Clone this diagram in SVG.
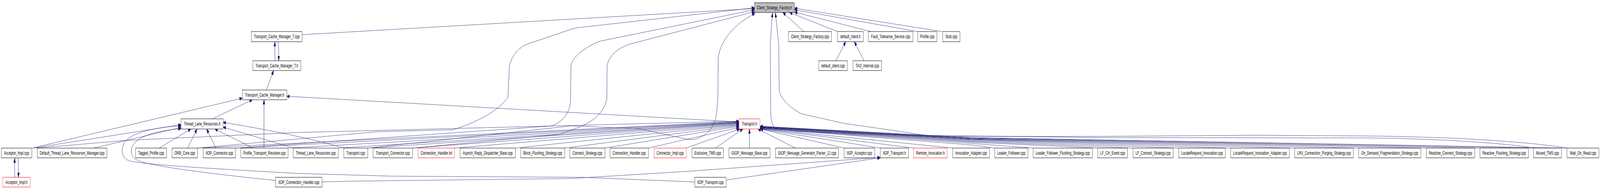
<svg xmlns="http://www.w3.org/2000/svg" width="7000" height="485" viewBox="0 0 7000 485" preserveAspectRatio="none">
<style>
svg{width:100%;height:100%}
.node rect{fill:#ffffff;stroke:#000000;stroke-width:1}
.node.red rect{stroke:#ff0000}
.node.root rect{fill:#bfbfbf}
.node text{font-family:"Liberation Sans",Arial,Helvetica,sans-serif;font-size:13.3px;text-anchor:middle;fill:#000000}
.edge{fill:none;stroke:#191970;stroke-width:1;marker-end:url(#arr)}
</style>
<defs>
<marker id="arr" markerUnits="userSpaceOnUse" markerWidth="12" markerHeight="9" refX="12" refY="4.5" orient="auto">
<path d="M0,0 L12,4.5 L0,9 z" fill="#191970" stroke="#191970" stroke-width="1"/>
</marker>
</defs>
<rect x="0" y="0" width="7000" height="485" fill="#ffffff"/>
<g id="edges">
<path class="edge" d="M1322,89 L3301,22"/>
<path class="edge" d="M1204,156 Q1201,132 1203,107"/>
<path class="edge" d="M1217,107 Q1220,132 1219,156"/>
<path class="edge" d="M1165,231 L1197,181"/>
<path class="edge" d="M930,305 L1104,256"/>
<path class="edge" d="M141,380 L1060,252"/>
<path class="edge" d="M1155,380 L1155,256"/>
<path class="edge" d="M3233,313 L1255,247"/>
<path class="edge" d="M79,406 Q82,430 80,455"/>
<path class="edge" d="M65,455 Q62,430 65,406"/>
<path class="edge" d="M145,380 L792,320"/>
<path class="edge" d="M410,380 L792,327"/>
<path class="edge" d="M697,380 L835,331"/>
<path class="edge" d="M821,380 L862,331"/>
<path class="edge" d="M945,380 L904,331"/>
<path class="edge" d="M1107,380 L940,331"/>
<path class="edge" d="M1285,380 L976,326"/>
<path class="edge" d="M1505,380 Q1300,345 976,314"/>
<path class="edge" d="M1206,463 C900,445 650,425 604,412 C575,405 568,390 580,375 C600,350 680,336 792,330"/>
<path class="edge" d="M3040,467 L2550,455 L1710,452 L1300,445 C900,432 650,423 566,413 C530,405 527,382 547,363 C580,340 680,326 792,323"/>
<path class="edge" d="M157,380 L560,360 L1300,340 L3233,311"/>
<path class="edge" d="M862,380 L3233,312"/>
<path class="edge" d="M1029,380 L3233,313"/>
<path class="edge" d="M1258,380 L3233,314"/>
<path class="edge" d="M1478,380 L3233,315"/>
<path class="edge" d="M1607,380 L3233,316"/>
<path class="edge" d="M1803,380 L3233,317"/>
<path class="edge" d="M1987,380 L3233,319"/>
<path class="edge" d="M2253,380 L3233,320"/>
<path class="edge" d="M2469,380 L3233,322"/>
<path class="edge" d="M2645,380 L3233,324"/>
<path class="edge" d="M2835,380 L3233,327"/>
<path class="edge" d="M3001,380 L3237,331"/>
<path class="edge" d="M3130,380 L3250,331"/>
<path class="edge" d="M3279,380 L3279,331"/>
<path class="edge" d="M3480,380 L3316,331"/>
<path class="edge" d="M3695,380 L3326,331"/>
<path class="edge" d="M3853,380 L3326,331"/>
<path class="edge" d="M3999,380 L3326,330"/>
<path class="edge" d="M4170,380 L3326,330"/>
<path class="edge" d="M4354,380 L4250,372 L3326,329"/>
<path class="edge" d="M4522,380 L4250,368 L3326,329"/>
<path class="edge" d="M4805,380 L4250,365 L3326,328"/>
<path class="edge" d="M4959,380 L4250,363 L3326,328"/>
<path class="edge" d="M5159,380 L4250,361 L3326,327"/>
<path class="edge" d="M5386,380 L4250,359 L3326,327"/>
<path class="edge" d="M5666,380 L4250,358 L3326,326"/>
<path class="edge" d="M5946,380 L4250,357 L3326,326"/>
<path class="edge" d="M6242,380 L4250,356 L3326,325"/>
<path class="edge" d="M6477,380 L4250,355 L3326,325"/>
<path class="edge" d="M6711,380 L4250,354 L3326,324"/>
<path class="edge" d="M6858,380 L4250,353 L3326,324"/>
<path class="edge" d="M3517,81 L3425,32"/>
<path class="edge" d="M3665,81 L3454,32"/>
<path class="edge" d="M3810,81 L3476,31"/>
<path class="edge" d="M4015,81 L3476,25"/>
<path class="edge" d="M4122,81 L3476,21"/>
<path class="edge" d="M864,380 L1650,338 L1982,333 Q2160,300 2222,250 L2229,167 Q2250,125 2313,112 L2515,72 L3301,20"/>
<path class="edge" d="M1031,380 L2249,330 L2415,323 Q2490,305 2496,260 L2498,168 Q2510,135 2622,106 L3301,25"/>
<path class="edge" d="M1805,380 L2447,345 L2540,325 Q2640,300 2655,253 L2656,168 Q2670,130 2756,113 L3301,30"/>
<path class="edge" d="M1609,380 L2500,323 L2794,330 L3012,358 L3039,358 Q3120,345 3135,293 L3141,247 L3142,147 Q3160,80 3303,34"/>
<path class="edge" d="M6711,380 C6600,368 6300,356 6000,354 L4800,353 L4000,347 L3500,338 L3393,331 Q3374,320 3372,293 L3370,117 Q3375,60 3380,33"/>
<path class="edge" d="M6858,380 C6700,365 6400,352 6000,349 L5500,347 L4800,350 L4079,350 L3888,333 L3696,317 L3505,292 Q3412,260 3409,230 L3407,117 Q3398,60 3392,33"/>
<path class="edge" d="M3657,156 L3700,107"/>
<path class="edge" d="M3780,156 L3738,107"/>
<path class="edge" d="M1409,467 L1524,465 L2500,458 L3000,440 L3851,404"/>
<path class="edge" d="M3177,462 L3851,405"/>
</g>
<g id="n_csf_h" class="node root"><rect x="3301" y="7" width="174" height="25"/><text x="3388" y="24">Client_Strategy_Factory.h</text></g>
<g id="n_tcmt_cpp" class="node"><rect x="1100" y="81" width="222" height="26"/><text x="1211" y="98">Transport_Cache_Manager_T.cpp</text></g>
<g id="n_csf_cpp" class="node"><rect x="3450" y="81" width="188" height="26"/><text x="3544" y="98">Client_Strategy_Factory.cpp</text></g>
<g id="n_default_client_h" class="node"><rect x="3664" y="81" width="113" height="26"/><text x="3720.5" y="98">default_client.h</text></g>
<g id="n_fts_cpp" class="node"><rect x="3799" y="81" width="195" height="26"/><text x="3896.5" y="98">Fault_Tolerance_Service.cpp</text></g>
<g id="n_profile_cpp" class="node"><rect x="4015" y="81" width="84" height="26"/><text x="4057" y="98">Profile.cpp</text></g>
<g id="n_stub_cpp" class="node"><rect x="4124" y="81" width="76" height="26"/><text x="4162" y="98">Stub.cpp</text></g>
<g id="n_tcmt_h" class="node"><rect x="1106" y="156" width="210" height="25"/><text x="1211" y="173">Transport_Cache_Manager_T.h</text></g>
<g id="n_default_client_cpp" class="node"><rect x="3582" y="156" width="125" height="25"/><text x="3644.5" y="173">default_client.cpp</text></g>
<g id="n_tao_internal_cpp" class="node"><rect x="3732" y="156" width="125" height="25"/><text x="3794.5" y="173">TAO_Internal.cpp</text></g>
<g id="n_tcm_h" class="node"><rect x="1060" y="231" width="195" height="25"/><text x="1157.5" y="248">Transport_Cache_Manager.h</text></g>
<g id="n_tlr_h" class="node"><rect x="792" y="305" width="184" height="26"/><text x="884" y="322">Thread_Lane_Resources.h</text></g>
<g id="n_transport_h" class="node red"><rect x="3233" y="305" width="92" height="26"/><text x="3279" y="322">Transport.h</text></g>
<g id="n_acceptor_impl_cpp" class="node"><rect x="6" y="380" width="133" height="25"/><text x="72.5" y="397">Acceptor_Impl.cpp</text></g>
<g id="n_default_tlrm_cpp" class="node"><rect x="163" y="380" width="305" height="25"/><text x="315.5" y="397">Default_Thread_Lane_Resources_Manager.cpp</text></g>
<g id="n_tagged_profile_cpp" class="node"><rect x="593" y="380" width="136" height="25"/><text x="661" y="397">Tagged_Profile.cpp</text></g>
<g id="n_orb_core_cpp" class="node"><rect x="753" y="380" width="111" height="25"/><text x="808.5" y="397">ORB_Core.cpp</text></g>
<g id="n_iiop_connector_cpp" class="node"><rect x="889" y="380" width="142" height="25"/><text x="960" y="397">IIOP_Connector.cpp</text></g>
<g id="n_ptr_cpp" class="node"><rect x="1054" y="380" width="206" height="25"/><text x="1157" y="397">Profile_Transport_Resolver.cpp</text></g>
<g id="n_tlr_cpp" class="node"><rect x="1283" y="380" width="197" height="25"/><text x="1381.5" y="397">Thread_Lane_Resources.cpp</text></g>
<g id="n_transport_cpp" class="node"><rect x="1504" y="380" width="105" height="25"/><text x="1556.5" y="397">Transport.cpp</text></g>
<g id="n_transport_connector_cpp" class="node"><rect x="1632" y="380" width="173" height="25"/><text x="1718.5" y="397">Transport_Connector.cpp</text></g>
<g id="n_connection_handler_inl" class="node red"><rect x="1829" y="380" width="160" height="25"/><text x="1909" y="397">Connection_Handler.inl</text></g>
<g id="n_ardb_cpp" class="node"><rect x="2013" y="380" width="242" height="25"/><text x="2134" y="397">Asynch_Reply_Dispatcher_Base.cpp</text></g>
<g id="n_bfs_cpp" class="node"><rect x="2278" y="380" width="193" height="25"/><text x="2374.5" y="397">Block_Flushing_Strategy.cpp</text></g>
<g id="n_connect_strategy_cpp" class="node"><rect x="2493" y="380" width="154" height="25"/><text x="2570" y="397">Connect_Strategy.cpp</text></g>
<g id="n_connection_handler_cpp" class="node"><rect x="2669" y="380" width="168" height="25"/><text x="2753" y="397">Connection_Handler.cpp</text></g>
<g id="n_connector_impl_cpp" class="node red"><rect x="2861" y="380" width="142" height="25"/><text x="2932" y="397">Connector_Impl.cpp</text></g>
<g id="n_exclusive_tms_cpp" class="node"><rect x="3028" y="380" width="137" height="25"/><text x="3096.5" y="397">Exclusive_TMS.cpp</text></g>
<g id="n_giop_mb_cpp" class="node"><rect x="3189" y="380" width="180" height="25"/><text x="3279" y="397">GIOP_Message_Base.cpp</text></g>
<g id="n_giop_mgp12_cpp" class="node"><rect x="3393" y="380" width="276" height="25"/><text x="3531" y="397">GIOP_Message_Generator_Parser_12.cpp</text></g>
<g id="n_iiop_acceptor_cpp" class="node"><rect x="3693" y="380" width="134" height="25"/><text x="3760" y="397">IIOP_Acceptor.cpp</text></g>
<g id="n_iiop_transport_h" class="node"><rect x="3851" y="380" width="124" height="25"/><text x="3913" y="397">IIOP_Transport.h</text></g>
<g id="n_remote_invocation_h" class="node red"><rect x="3997" y="380" width="147" height="25"/><text x="4070.5" y="397">Remote_Invocation.h</text></g>
<g id="n_invocation_adapter_cpp" class="node"><rect x="4168" y="380" width="161" height="25"/><text x="4248.5" y="397">Invocation_Adapter.cpp</text></g>
<g id="n_leader_follower_cpp" class="node"><rect x="4352" y="380" width="145" height="25"/><text x="4424.5" y="397">Leader_Follower.cpp</text></g>
<g id="n_lffs_cpp" class="node"><rect x="4520" y="380" width="259" height="25"/><text x="4649.5" y="397">Leader_Follower_Flushing_Strategy.cpp</text></g>
<g id="n_lf_ch_event_cpp" class="node"><rect x="4803" y="380" width="130" height="25"/><text x="4868" y="397">LF_CH_Event.cpp</text></g>
<g id="n_lf_connect_strategy_cpp" class="node"><rect x="4957" y="380" width="176" height="25"/><text x="5045" y="397">LF_Connect_Strategy.cpp</text></g>
<g id="n_lri_cpp" class="node"><rect x="5157" y="380" width="204" height="25"/><text x="5259" y="397">LocateRequest_Invocation.cpp</text></g>
<g id="n_lria_cpp" class="node"><rect x="5384" y="380" width="257" height="25"/><text x="5512.5" y="397">LocateRequest_Invocation_Adapter.cpp</text></g>
<g id="n_lru_cps_cpp" class="node"><rect x="5664" y="380" width="257" height="25"/><text x="5792.5" y="397">LRU_Connection_Purging_Strategy.cpp</text></g>
<g id="n_odfs_cpp" class="node"><rect x="5944" y="380" width="272" height="25"/><text x="6080" y="397">On_Demand_Fragmentation_Strategy.cpp</text></g>
<g id="n_rcs_cpp" class="node"><rect x="6240" y="380" width="212" height="25"/><text x="6346" y="397">Reactive_Connect_Strategy.cpp</text></g>
<g id="n_rfs_cpp" class="node"><rect x="6475" y="380" width="212" height="25"/><text x="6581" y="397">Reactive_Flushing_Strategy.cpp</text></g>
<g id="n_muxed_tms_cpp" class="node"><rect x="6709" y="380" width="123" height="25"/><text x="6770.5" y="397">Muxed_TMS.cpp</text></g>
<g id="n_wait_on_read_cpp" class="node"><rect x="6856" y="380" width="139" height="25"/><text x="6925.5" y="397">Wait_On_Read.cpp</text></g>
<g id="n_acceptor_impl_h" class="node red"><rect x="12" y="455" width="120" height="25"/><text x="72" y="472">Acceptor_Impl.h</text></g>
<g id="n_iiop_ch_cpp" class="node"><rect x="1206" y="455" width="203" height="25"/><text x="1307.5" y="472">IIOP_Connection_Handler.cpp</text></g>
<g id="n_iiop_transport_cpp" class="node"><rect x="3040" y="455" width="137" height="25"/><text x="3108.5" y="472">IIOP_Transport.cpp</text></g>
</svg>
